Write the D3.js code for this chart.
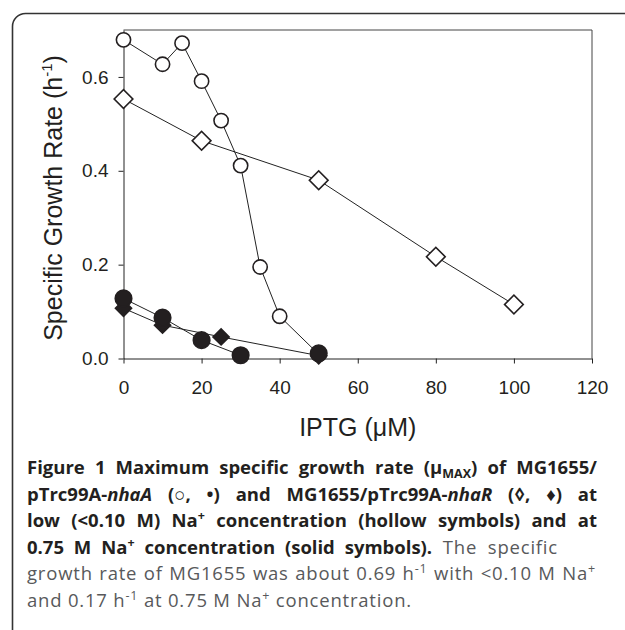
<!DOCTYPE html>
<html>
<head>
<meta charset="utf-8">
<script src="https://cdn.jsdelivr.net/npm/d3@7"></script>
<style>
  body { margin: 0; background: #fff; }
  svg { display: block; }
  text { white-space: pre; }
</style>
</head>
<body>
<svg id="fig" width="625" height="630"></svg>
<script>
// IPTG (uM) and growth rate (h^-1)
const nhaA_low_x = [0, 10, 15, 20, 25, 30, 35, 40, 50];
const nhaA_low_y = [0.679, 0.627, 0.672, 0.591, 0.507, 0.411, 0.195, 0.090, 0.009];

const nhaR_low_x = [0, 20, 50, 80, 100];
const nhaR_low_y = [0.553, 0.464, 0.380, 0.217, 0.115];

// no point at 40 -> line breaks there
const nhaA_high_x = [0, 10, 20, 30, 40, 50];
const nhaA_high_y = [0.128, 0.087, 0.039, 0.007, null, 0.011];

const nhaR_high_x = [0, 10, 25, 50];
const nhaR_high_y = [0.107, 0.071, 0.046, 0.006];

const xTicks = [0, 20, 40, 60, 80, 100, 120];
const yTicks = [0, 0.2, 0.4, 0.6];

const svg = d3.select('#fig');
const ink = '#231f20';

// rounded frame round the whole figure (runs off right and bottom)
svg.append('rect')
    .attr('x', 12.5).attr('y', 13.5)
    .attr('width', 660).attr('height', 660)
    .attr('rx', 13)
    .attr('fill', 'none').attr('stroke', '#333').attr('stroke-width', 1.6);

const scX = d3.scaleLinear().domain([0, 120]).range([123.5, 592]);
const scY = d3.scaleLinear().domain([0, 0.7]).range([358.5, 30]);

// box lines on top and right
svg.append('path')
    .attr('d', `M${scX(0)},${scY(0.7)}H${scX(120)}V${scY(0)}`)
    .attr('fill', 'none').attr('stroke', '#444').attr('stroke-width', 1);

const xAxis = svg.append('g')
    .attr('transform', `translate(0,${scY(0)})`)
    .call(d3.axisBottom(scX).tickValues(xTicks).tickSize(5).tickSizeOuter(0).tickPadding(17));

const yAxis = svg.append('g')
    .attr('transform', `translate(${scX(0)},0)`)
    .call(d3.axisLeft(scY).tickValues(yTicks).tickFormat(d3.format('.1f'))
        .tickSize(5).tickSizeOuter(0).tickPadding(10));

[xAxis, yAxis].forEach(a => {
    a.selectAll('path, line').attr('stroke', '#222');
    a.selectAll('text')
        .attr('fill', ink)
        .style('font-family', '"Liberation Sans", Arial, sans-serif')
        .style('font-size', '19px');
});

// axis titles
svg.append('text')
    .attr('x', scX(60)).attr('y', 436)
    .attr('text-anchor', 'middle')
    .attr('fill', ink)
    .style('font-family', '"Liberation Sans", Arial, sans-serif')
    .style('font-size', '25px')
    .text('IPTG (\u03bcM)');

const yt = svg.append('text')
    .attr('transform', 'translate(62,198) rotate(-90)')
    .attr('text-anchor', 'middle')
    .attr('fill', ink)
    .style('font-family', '"Liberation Sans", Arial, sans-serif')
    .style('font-size', '25px');
yt.append('tspan').text('Specific Growth Rate (h');
yt.append('tspan').attr('dy', -10).style('font-size', '15px').text('-1');
yt.append('tspan').attr('dy', 10).text(')');

// series
function pts(xs, ys) {
    return xs.map((x, i) => ({x: x, y: ys[i]}));
}
const series = [
    {d: pts(nhaA_low_x, nhaA_low_y), shape: d3.symbolCircle, size: 160, fill: '#fff', rot: 0},
    {d: pts(nhaR_low_x, nhaR_low_y), shape: d3.symbolSquare, size: 175, fill: '#fff', rot: 45},
    {d: pts(nhaR_high_x, nhaR_high_y), shape: d3.symbolSquare, size: 130, fill: ink, rot: 45},
    {d: pts(nhaA_high_x, nhaA_high_y), shape: d3.symbolCircle, size: 215, fill: ink, rot: 0}
];

const lineMaker = d3.line()
    .defined(d => d.y !== null)
    .x(d => scX(d.x))
    .y(d => scY(d.y));

series.forEach(s => {
    svg.append('path')
        .attr('d', lineMaker(s.d))
        .attr('fill', 'none').attr('stroke', '#222').attr('stroke-width', 1);
});

series.forEach(s => {
    svg.append('g')
        .selectAll('path')
        .data(s.d.filter(d => d.y !== null))
        .enter()
        .append('path')
        .attr('d', d3.symbol().type(s.shape).size(s.size))
        .attr('transform', d => `translate(${scX(d.x)},${scY(d.y)}) rotate(${s.rot})`)
        .attr('fill', s.fill)
        .attr('stroke', ink).attr('stroke-width', 1.6);
});

// caption, justified by stretching the word gaps
const capLines = [
    {y: 474, w: 570, segs: [
        {t: 'Figure 1 Maximum specific growth rate (\u03bc', b: 1},
        {t: 'MAX', b: 1, sub: 1},
        {t: ') of MG1655/', b: 1}]},
    {y: 500.5, w: 570, segs: [
        {t: 'pTrc99A-', b: 1}, {t: 'nhaA', b: 1, i: 1},
        {t: ' (\u25cb, \u2022) and MG1655/pTrc99A-', b: 1}, {t: 'nhaR', b: 1, i: 1},
        {t: ' (\u25ca, \u2666) at', b: 1}]},
    {y: 527, w: 570, segs: [
        {t: 'low (<0.10 M) Na', b: 1}, {t: '+', b: 1, sup: 1},
        {t: ' concentration (hollow symbols) and at', b: 1}]},
    {y: 553.5, w: 531, segs: [
        {t: '0.75 M Na', b: 1}, {t: '+', b: 1, sup: 1},
        {t: ' concentration (solid symbols).', b: 1},
        {t: ' The specific'}]},
    {y: 580, w: 569, segs: [
        {t: 'growth rate of MG1655 was about 0.69 h'}, {t: '-1', sup: 1},
        {t: ' with <0.10 M Na'}, {t: '+', sup: 1}]},
    {y: 606.5, w: 0, segs: [
        {t: 'and 0.17 h'}, {t: '-1', sup: 1},
        {t: ' at 0.75 M Na'}, {t: '+', sup: 1},
        {t: ' concentration.'}]}
];

const cap = svg.append('g')
    .style('font-family', '"Open Sans", "Noto Sans", sans-serif')
    .style('font-size', '18.5px');

capLines.forEach(ln => {
    const t = cap.append('text').attr('x', 27).attr('y', ln.y);
    let shift = 0;
    ln.segs.forEach(s => {
        const sp = t.append('tspan').text(s.t)
            .attr('font-weight', s.b ? 700 : 400)
            .attr('font-style', s.i ? 'italic' : null)
            .attr('fill', s.b ? ink : '#58595b')
            .style('letter-spacing', s.b ? null : '0.8px');
        const want = s.sup ? -7 : (s.sub ? 4 : 0);
        if (want !== shift) { sp.attr('dy', want - shift); shift = want; }
        if (s.sup || s.sub) sp.style('font-size', '12.5px');
    });
    if (ln.w) {
        const nat = t.node().getComputedTextLength();
        const gaps = (t.text().match(/ /g) || []).length;
        t.style('word-spacing', ((ln.w - nat) / gaps) + 'px');
    }
});
</script>
</body>
</html>
